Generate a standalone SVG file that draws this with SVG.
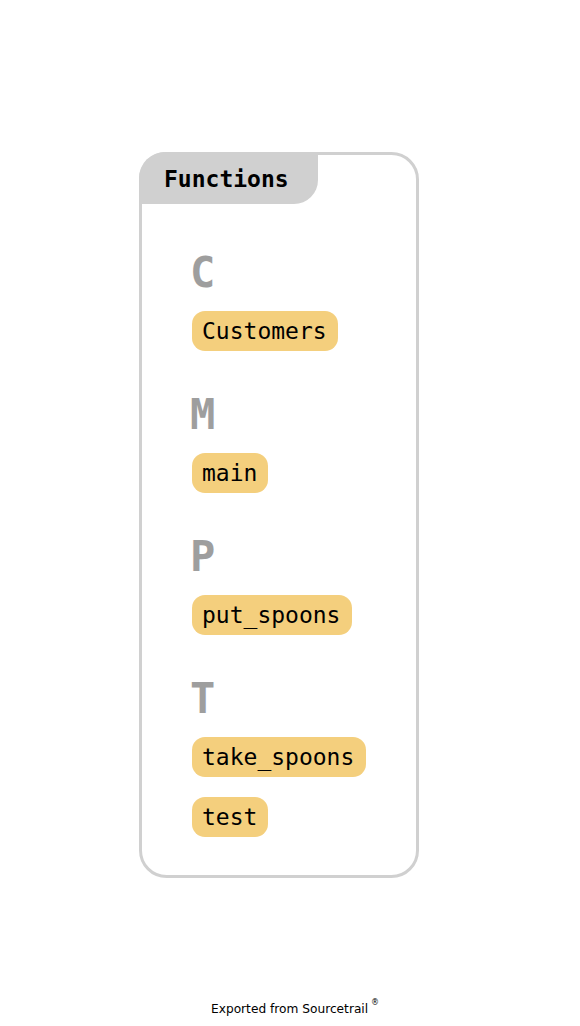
<svg xmlns="http://www.w3.org/2000/svg" width="580" height="1026" viewBox="0 0 580 1026">
<style>
.node rect{fill:#f4cf7d;}
.node text{font-family:"DejaVu Sans Mono",monospace;font-size:23px;fill:#000;}
.letter{font-family:"DejaVu Sans Mono",monospace;font-size:42px;font-weight:bold;fill:#9e9e9e;}
</style>
<rect width="580" height="1026" fill="#fff"/>
<g id="group-functions">
<rect x="140.5" y="153.5" width="277" height="723" rx="26" fill="#fff" stroke="#d0d0d0" stroke-width="3"/>
<path d="M139 178 A26 26 0 0 1 165 152 L318 152 L318 180 A24 24 0 0 1 294 204 L139 204 Z" fill="#d0d0d0"/>
<text x="164" y="187" font-family="DejaVu Sans Mono,monospace" font-size="23" font-weight="bold" fill="#000">Functions</text>
<text class="letter" x="190" y="287">C</text>
<text class="letter" x="190" y="429">M</text>
<text class="letter" x="190" y="571">P</text>
<text class="letter" x="190" y="713">T</text>
</g>
<g id="node-customers" class="node"><rect x="192" y="311" width="146" height="40" rx="13"/><text x="202" y="339">Customers</text></g>
<g id="node-main" class="node"><rect x="192" y="453" width="76" height="40" rx="13"/><text x="202" y="481">main</text></g>
<g id="node-put_spoons" class="node"><rect x="192" y="595" width="160" height="40" rx="13"/><text x="202" y="623">put_spoons</text></g>
<g id="node-take_spoons" class="node"><rect x="192" y="737" width="174" height="40" rx="13"/><text x="202" y="765">take_spoons</text></g>
<g id="node-test" class="node"><rect x="192" y="797" width="76" height="40" rx="13"/><text x="202" y="825">test</text></g>
<g id="connectors"></g>
<text x="211" y="1013" font-family="DejaVu Sans,sans-serif" font-size="12.2" fill="#000">Exported from Sourcetrail</text>
<text x="371" y="1005" font-family="DejaVu Sans,sans-serif" font-size="8" fill="#000">®</text>
</svg>
